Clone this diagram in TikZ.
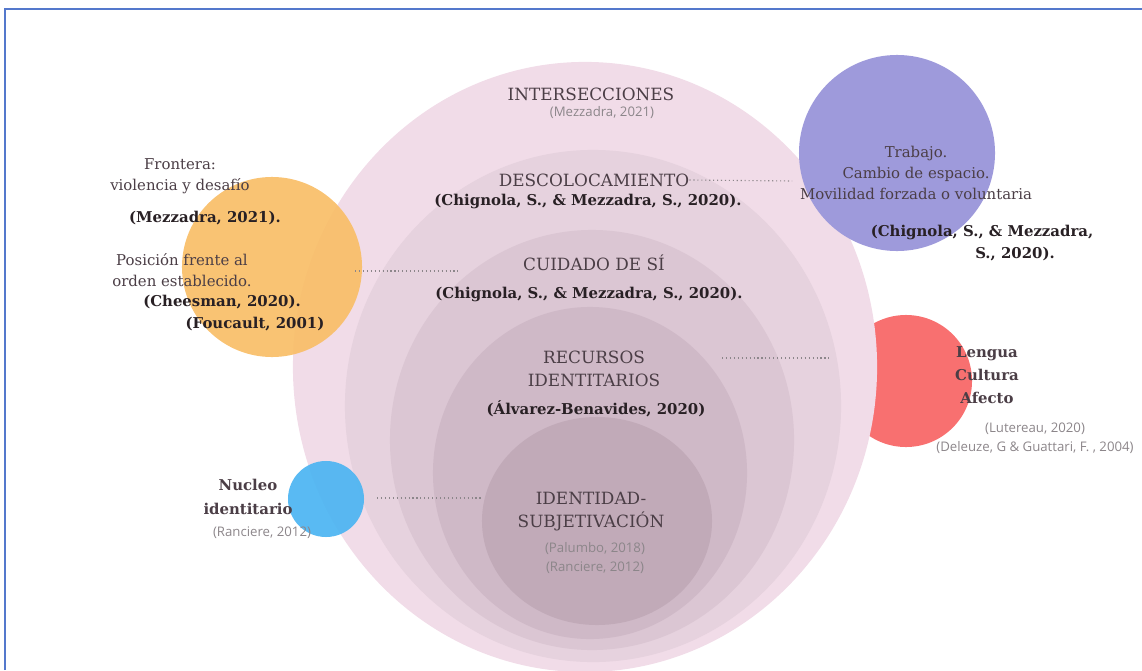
\documentclass[tikz,border=0pt]{standalone}
\usepackage{fontspec}
\setmainfont{DejaVu Serif}
\newfontfamily\citefont{Open Sans}
\usetikzlibrary{shapes.geometric}
\definecolor{ringA}{RGB}{241,220,232}
\definecolor{ringB}{RGB}{230,210,222}
\definecolor{ringC}{RGB}{219,198,211}
\definecolor{ringD}{RGB}{207,185,199}
\definecolor{ringE}{RGB}{193,170,184}
\definecolor{framecolor}{RGB}{84,120,204}
\definecolor{orangecolor}{RGB}{249,190,104}
\definecolor{purplecolor}{RGB}{158,154,219}
\definecolor{redcolor}{RGB}{248,112,112}
\definecolor{bluecolor}{RGB}{80,182,242}
\definecolor{titlecolor}{RGB}{75,62,70}
\definecolor{boldcolor}{RGB}{40,32,36}
\definecolor{citecolor}{RGB}{140,134,138}
\tikzstyle{ring} = [ellipse, inner sep=0pt, draw=none]
\tikzstyle{blob} = [circle, inner sep=0pt, draw=none]
\tikzstyle{heading} = [text=titlecolor, inner sep=0pt, align=center,
                       font=\fontsize{12}{16.4}\selectfont]
\tikzstyle{plain} = [text=titlecolor, inner sep=0pt, align=center,
                     font=\fontsize{10.6}{15}\selectfont]
\tikzstyle{bibbold} = [text=boldcolor, inner sep=0pt, align=center,
                       font=\bfseries\fontsize{10.6}{15.6}\selectfont]
\tikzstyle{biblight} = [text=citecolor, inner sep=0pt, align=center,
                        font=\citefont\fontsize{9.4}{13.5}\selectfont]
\tikzstyle{dotlink} = [draw=citecolor, dotted, line width=0.8pt]

\begin{document}
\begin{tikzpicture}[x=0.025cm, y=-0.025cm]
        \useasboundingbox (0,0) rectangle (1142,670);
        \draw [framecolor, line width=1.4pt] (5,670) -- (5,9) -- (1142,9);
        
        %Red circle behind the rings
        \node (lengua) [blob, fill=redcolor, minimum size=3.3cm] at (906,381) {};
        
        %Rings
        \node (interRing) [ring, fill=ringA, minimum width=14.6cm, minimum height=15.25cm] at (585,367) {};
        \node (descRing) [ring, fill=ringB, minimum width=12.4cm, minimum height=12.8cm] at (593,406) {};
        \node (cuidRing) [ring, fill=ringC, minimum width=10.1cm, minimum height=10.5cm] at (592,440) {};
        \node (recuRing) [ring, fill=ringD, minimum width=7.85cm, minimum height=8.3cm] at (590,473) {};
        \node (idenRing) [ring, fill=ringE, minimum width=5.75cm, minimum height=5.2cm] at (597,521) {};
        
        %Side circles
        \node (frontera) [blob, fill=orangecolor, fill opacity=0.93, minimum size=4.5cm] at (272,267) {};
        \node (trabajo) [blob, fill=purplecolor, minimum size=4.9cm] at (897,153) {};
        \node (nucleo) [blob, fill=bluecolor, fill opacity=0.95, minimum size=1.9cm] at (326,499) {};
        
        %Ring texts
        \node (interTitle) [heading] at (591,94) {INTERSECCIONES};
        \node (interCite) [biblight] at (602,113) {(Mezzadra, 2021)};
        \node (descTitle) [heading] at (594,180) {DESCOLOCAMIENTO};
        \node (descRef) [bibbold] at (588,201) {(Chignola, S., \& Mezzadra, S., 2020).};
        \node (cuidTitle) [heading] at (594,263) {CUIDADO DE SÍ};
        \node (cuidRef) [bibbold] at (589,294) {(Chignola, S., \& Mezzadra, S., 2020).};
        \node (recuTitle) [heading] at (594,369) {RECURSOS\\IDENTITARIOS};
        \node (recuRef) [bibbold] at (596,409) {(Álvarez-Benavides, 2020)};
        \node (idenTitle) [heading] at (591,512) {IDENTIDAD-\\SUBJETIVACIÓN};
        \node (idenCite) [biblight] at (595,558) {(Palumbo, 2018)\\(Ranciere, 2012)};
        
        %Frontera texts
        \node (fronTitle) [plain] at (180,176) {Frontera:\\violencia y desafío};
        \node (fronRef) [bibbold] at (205,218) {(Mezzadra, 2021).};
        \node (posTitle) [plain] at (182,270) {Posición frente al\\orden establecido.};
        \node (posRefA) [bibbold] at (222,302) {(Cheesman, 2020).};
        \node (posRefB) [bibbold] at (255,324) {(Foucault, 2001)};
        
        %Trabajo texts
        \node (trabTitle) [plain] at (916,173) {Trabajo.\\Cambio de espacio.\\Movilidad forzada o voluntaria};
        \node (trabRefA) [bibbold] at (982,232) {(Chignola, S., \& Mezzadra,};
        \node (trabRefB) [bibbold] at (1015,254) {S., 2020).};
        
        %Lengua texts
        \node (lengTitle) [plain, font=\bfseries\fontsize{10.6}{16.4}\selectfont] at (987,375) {Lengua\\Cultura\\Afecto};
        \node (lengCite) [biblight] at (1035,438) {(Lutereau, 2020)\\(Deleuze, G \& Guattari, F. , 2004)};
        
        %Nucleo texts
        \node (nuclTitle) [plain, font=\bfseries\fontsize{10.6}{17}\selectfont] at (248,497) {Nucleo\\identitario};
        \node (nuclCite) [biblight] at (262,533) {(Ranciere, 2012)};
        
        %Dotted links
        \coordinate (descEnd) at (792,181);
        \draw [dotlink] (descTitle.east) -- (descEnd);
        \coordinate (cuidStart) at (355,271);
        \coordinate (cuidEnd) at (458,271);
        \draw [dotlink] (cuidStart) -- (cuidEnd);
        \coordinate (recuStart) at (722,358);
        \coordinate (recuEnd) at (830,358);
        \draw [dotlink] (recuStart) -- (recuEnd);
        \coordinate (idenStart) at (377,498);
        \coordinate (idenEnd) at (482,498);
        \draw [dotlink] (idenStart) -- (idenEnd);
    
\end{tikzpicture}
\end{document}
